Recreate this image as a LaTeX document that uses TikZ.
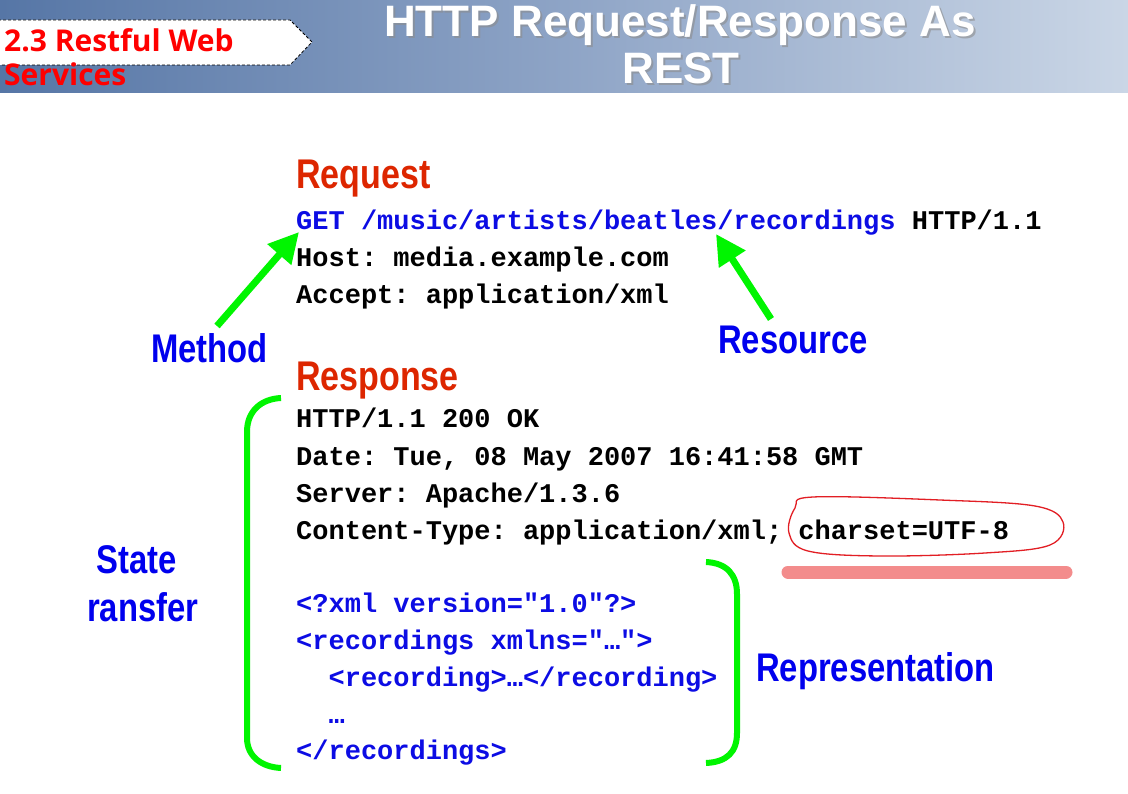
\documentclass[tikz,border=0pt]{standalone}
\usepackage{fontspec}
\usetikzlibrary{arrows.meta}
\setmainfont{Liberation Sans}
\newfontfamily\headfont[FakeStretch=0.82]{Liberation Sans}
\newfontfamily\codefont{Liberation Mono}
\newfontfamily\tagfont{Open Sans}
\frenchspacing

\definecolor{bandleft}{RGB}{86,118,166}
\definecolor{bandmid}{RGB}{142,164,198}
\definecolor{bandright}{RGB}{202,214,230}
\definecolor{headred}{RGB}{221,38,0}
\definecolor{labelblue}{RGB}{0,0,238}
\definecolor{codeblue}{RGB}{12,12,228}
\definecolor{pointgreen}{RGB}{0,245,0}
\definecolor{markred}{RGB}{226,30,36}
\definecolor{markpink}{RGB}{243,140,140}

\tikzset{
  code/.style={font=\codefont\bfseries\fontsize{27}{27}\selectfont, anchor=base west, inner sep=0pt},
  codeblue/.style={code, text=codeblue},
  heading/.style={font=\headfont\bfseries\fontsize{41.5}{41.5}\selectfont, text=headred, anchor=base west, inner sep=0pt},
  tag/.style={font=\headfont\bfseries\fontsize{40}{40}\selectfont, text=labelblue, anchor=base west, inner sep=0pt},
  titletext/.style={font=\bfseries\fontsize{44}{44}\selectfont, anchor=base, inner sep=0pt},
  sectiontext/.style={font=\tagfont\bfseries\fontsize{30}{30}\selectfont, text=red, anchor=base west, inner sep=0pt},
  pointer/.style={draw=pointgreen, line width=7pt, -{Triangle[length=30pt,width=30pt]}},
  bracket/.style={draw=pointgreen, line width=6pt}
}

\begin{document}
\begin{tikzpicture}[x=1pt,y=-1pt]
\useasboundingbox (0,0) rectangle (1128,794);
\fill[white] (0,0) rectangle (1128,794);

% title band
\shade[left color=bandleft, right color=bandmid] (0,0) rectangle (564,93);
\shade[left color=bandmid, right color=bandright] (564,0) rectangle (1128,93);

% section tab
\draw[fill=white, densely dashed, line width=0.8pt] (-2,20) -- (290,20) -- (312,42) -- (290,65) -- (-2,65) -- cycle;
\node[sectiontext] (sec1) at (4,52) {2.3 Restful Web};
\node[sectiontext] (sec2) at (4,86) {Services};

% title with soft shadow
\node[titletext, text=black!45, opacity=0.6] at (682,39) {HTTP Request/Response As};
\node[titletext, text=black!45, opacity=0.6] at (683,86) {REST};
\node[titletext, text=white] (title1) at (680,37) {HTTP Request/Response As};
\node[titletext, text=white] (title2) at (681,84) {REST};

% request
\node[heading] (req) at (296,189) {Request};
\node[code] (get) at (296,230) {\textcolor{codeblue}{GET /music/artists/beatles/recordings} HTTP/1.1};
\node[code] (host) at (296,267) {Host: media.example.com};
\node[code] (accept) at (296,304) {Accept: application/xml};

% response
\node[heading] (resp) at (296,391) {Response};
\node[code] (status) at (296,428) {HTTP/1.1 200 OK};
\node[code] (date) at (296,465) {Date: Tue, 08 May 2007 16:41:58 GMT};
\node[code] (server) at (296,502) {Server: Apache/1.3.6};
\node[code] (ctype) at (296,539) {Content-Type: application/xml; charset=UTF-8};

\node[codeblue] (xml1) at (296,612) {<?xml version="1.0"?>};
\node[codeblue] (xml2) at (296,649) {<recordings xmlns="…">};
\node[codeblue] (xml3) at (328.4,686) {<recording>…</recording>};
\node[codeblue] (xml4) at (328.4,723) {…};
\node[codeblue] (xml5) at (296,759) {</recordings>};

% labels
\node[tag] (method) at (151,363) {Method};
\node[tag] (resource) at (718,354) {Resource};
\node[tag] (repr) at (756,681) {Representation};
\node[tag] (state1) at (96,573) {State};
\node[tag] (state2) at (87,621) {ransfer};

% pointers
\coordinate (mtail) at (217,326);
\coordinate (mtip) at (299,232);
\coordinate (rtail) at (771,319);
\coordinate (rtip) at (716,234);
\draw[pointer] (mtail) -- (mtip);
\draw[pointer] (rtail) -- (rtip);

% brackets
\draw[bracket] (281,398) .. controls (261,399) and (247,411) .. (247,432)
  -- (247,738) .. controls (247,756) and (261,767) .. (281,768);
\draw[bracket] (706,562) .. controls (727,563) and (737,575) .. (737,594)
  -- (737,733) .. controls (737,752) and (727,762) .. (706,763);

% hand-drawn highlight of the charset
\draw[markred, line width=1.3pt] plot[smooth cycle, tension=0.6] coordinates {
  (813,497) (940,500) (1035,506) (1063,522) (1050,545) (985,553)
  (880,556) (808,551) (789,533) (795,508)};
\draw[markpink, line width=13pt, line cap=round] (788,572) -- (1066,572);
\end{tikzpicture}
\end{document}
